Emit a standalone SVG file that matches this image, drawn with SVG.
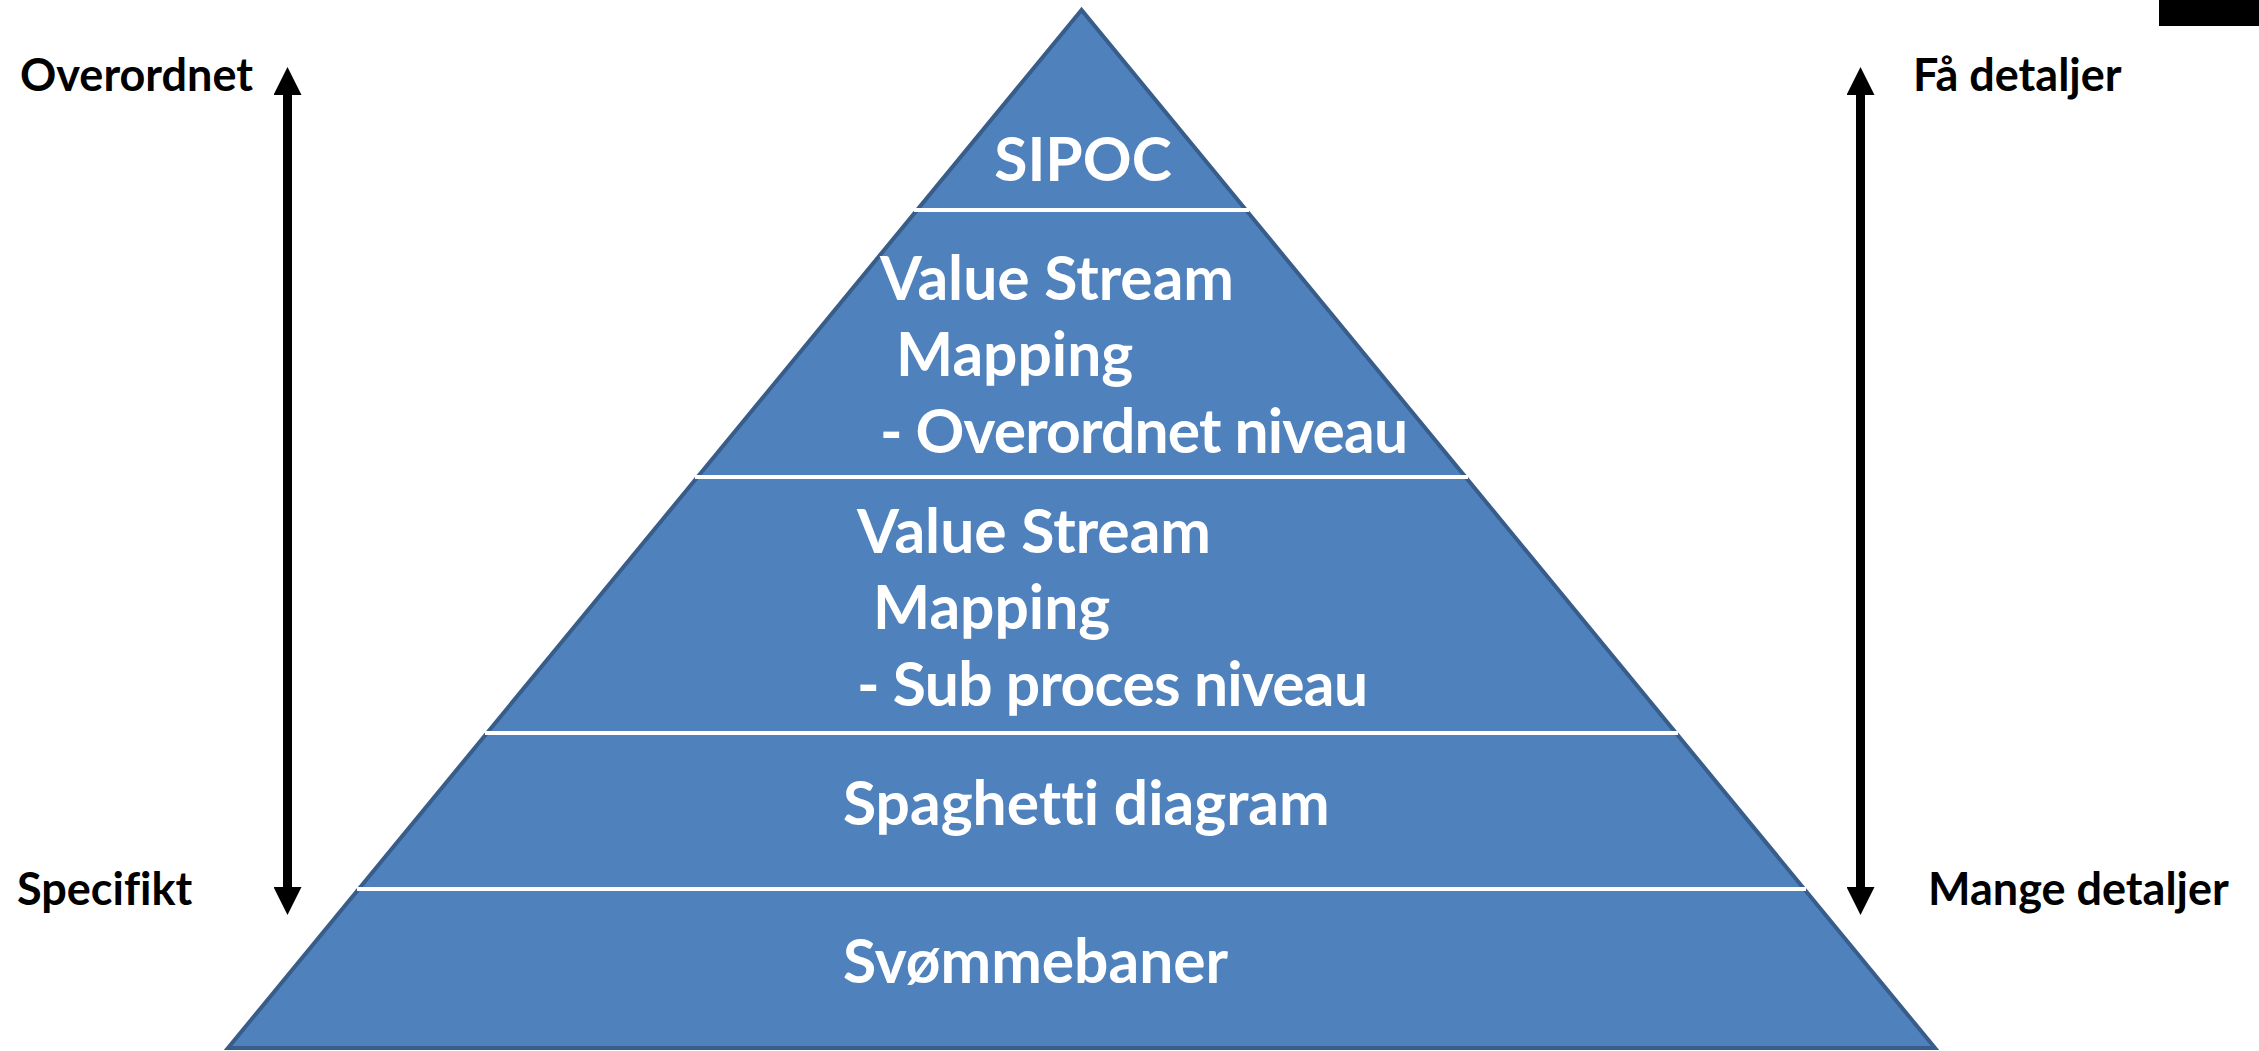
<svg xmlns="http://www.w3.org/2000/svg" width="2259" height="1051" viewBox="0 0 2259 1051">
  <style>
    .band { font-family: Lato, "Liberation Sans", sans-serif; font-weight: bold; font-size: 60.5px; fill: #FFFFFF; font-variant-ligatures: none; }
    .side { font-family: Lato, "Liberation Sans", sans-serif; font-weight: bold; font-size: 45px; fill: #000000; font-variant-ligatures: none; }
    .sep { stroke: #FFFFFF; stroke-width: 4; }
    .arrow { stroke: #000000; stroke-width: 9; fill: none; marker-start: url(#head); marker-end: url(#head); }
  </style>
  <defs>
    <marker id="head" viewBox="0 0 28 28" refX="0" refY="14" markerWidth="28" markerHeight="28" markerUnits="userSpaceOnUse" orient="auto-start-reverse">
      <path d="M0,0 L28,14 L0,28 z" fill="#000000"/>
    </marker>
  </defs>
  <rect x="0" y="0" width="2259" height="1051" fill="#FFFFFF"/>
  <rect x="2159" y="0" width="100" height="26" fill="#000000"/>

  <g id="pyramid">
    <polygon points="1081.5,10 228,1048 1935,1048" fill="#4F81BD" stroke="#385D8A" stroke-width="4" stroke-linejoin="miter"/>
    <line class="sep" x1="914" y1="210" x2="1249" y2="210"/>
    <line class="sep" x1="695" y1="477" x2="1468" y2="477"/>
    <line class="sep" x1="485" y1="733" x2="1678" y2="733"/>
    <line class="sep" x1="357" y1="889" x2="1806" y2="889"/>
  </g>

  <g id="level-sipoc">
    <text class="band" x="1083" y="181" text-anchor="middle">SIPOC</text>
  </g>
  <g id="level-vsm-overordnet">
    <text class="band" x="880" y="300">Value Stream</text>
    <text class="band" x="896" y="376">Mapping</text>
    <text class="band" x="880" y="453" textLength="528" lengthAdjust="spacing">- Overordnet niveau</text>
  </g>
  <g id="level-vsm-sub">
    <text class="band" x="857" y="553">Value Stream</text>
    <text class="band" x="873" y="629">Mapping</text>
    <text class="band" x="857" y="706" textLength="511" lengthAdjust="spacing">- Sub proces niveau</text>
  </g>
  <g id="level-spaghetti">
    <text class="band" x="843" y="825">Spaghetti diagram</text>
  </g>
  <g id="level-svommebaner">
    <text class="band" x="843" y="983">Svømmebaner</text>
  </g>

  <g id="label-overordnet"><text class="side" x="20" y="91">Overordnet</text></g>
  <g id="label-specifikt"><text class="side" x="17" y="905">Specifikt</text></g>
  <g id="label-faa-detaljer"><text class="side" x="1913" y="91">Få detaljer</text></g>
  <g id="label-mange-detaljer"><text class="side" x="1928" y="905">Mange detaljer</text></g>

  <g id="connectors">
    <line class="arrow" x1="287.5" y1="95" x2="287.5" y2="887"/>
    <line class="arrow" x1="1860.5" y1="95" x2="1860.5" y2="887"/>
  </g>
</svg>
